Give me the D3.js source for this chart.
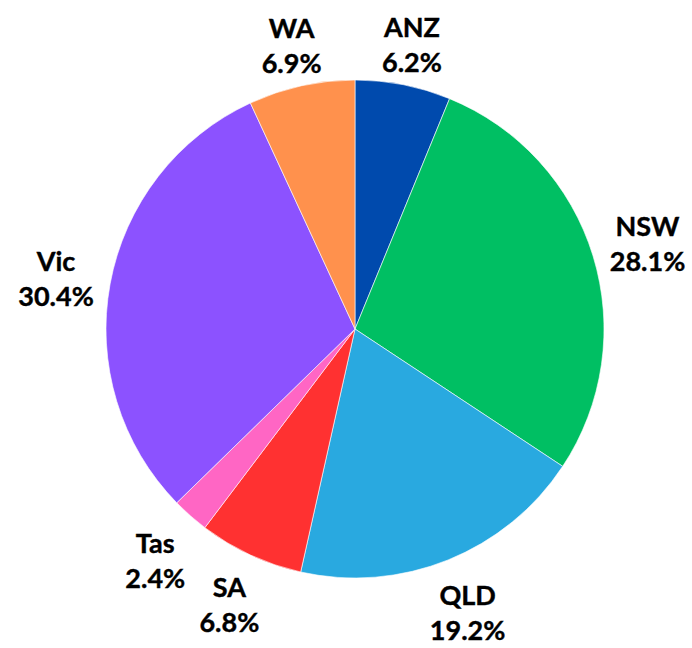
<!DOCTYPE html>
<html>
<head>
<meta charset="utf-8">
<script src="https://cdn.jsdelivr.net/npm/d3@7"></script>
<style>
  html, body { margin: 0; padding: 0; background: #fff; }
  svg { display: block; }
  text { font-family: Lato, "Open Sans", sans-serif; font-weight: 700; font-size: 27px; fill: #000; }
</style>
</head>
<body>
<svg id="chart" width="692" height="648"></svg>
<script>
const categories = ["ANZ", "NSW", "QLD", "SA", "Tas", "Vic", "WA"];
const values = [6.2, 28.1, 19.2, 6.8, 2.4, 30.4, 6.9];
const colors = ["#004AAD", "#00BF63", "#29A9E0", "#FF3131", "#FF66C4", "#8C52FF", "#FF914D"];

const W = 692, H = 648;
const cx = 355, cy = 329, R = 249;
const data = categories.map((c, i) => ({ name: c, value: values[i], color: colors[i] }));

const svg = d3.select("#chart");
const g = svg.append("g").attr("transform", `translate(${cx},${cy})`);

const pie = d3.pie().value(d => d.value).sort(null);
const arc = d3.arc().innerRadius(0).outerRadius(R);
const arcs = pie(data);

g.selectAll("path.slice").data(arcs).enter().append("path")
  .attr("class", "slice")
  .attr("d", arc)
  .attr("fill", d => d.data.color)
  .attr("stroke", "#fff")
  .attr("stroke-width", 0.6);

const fmt = d3.format(".1f");
const lineGap = 35;
const labels = g.selectAll("text.lbl").data(arcs).enter().append("text")
  .attr("class", "lbl")
  .attr("text-anchor", "middle")
  .attr("stroke", "#000")
  .attr("stroke-width", 0.4);
labels.append("tspan").attr("class", "l1").attr("x", 0).attr("y", 0).text(d => d.data.name);
labels.append("tspan").attr("class", "l2").attr("x", 0).attr("y", lineGap).text(d => fmt(d.data.value) + "%");

labels.each(function(d) {
  const el = d3.select(this);
  const bb = this.getBBox();
  const hw = bb.width / 2;
  const capTop = -19;
  const hh = (lineGap - capTop) / 2;
  const mid = (d.startAngle + d.endAngle) / 2;
  const s = Math.sin(mid), c = -Math.cos(mid);
  const dist = 262 + Math.abs(hw * s) + Math.abs(hh * c);
  const x = dist * s, yc = dist * c + 5;
  const base1 = yc - (capTop + lineGap) / 2;
  el.selectAll("tspan").attr("x", x);
  el.select(".l1").attr("y", base1);
  el.select(".l2").attr("y", base1 + lineGap);
});
</script>
</body>
</html>
